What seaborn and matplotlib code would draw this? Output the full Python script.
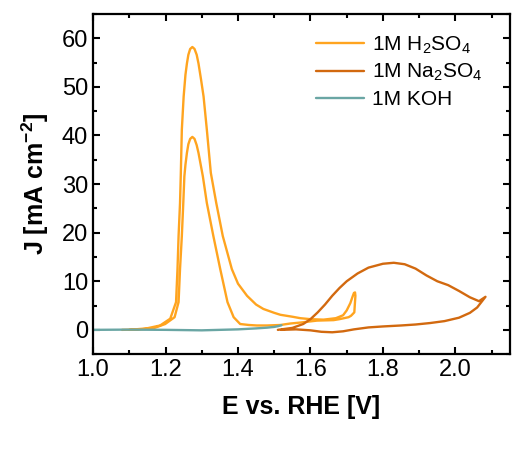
import numpy as np
import pandas as pd
import seaborn as sns
import matplotlib.pyplot as plt
from matplotlib.ticker import MultipleLocator

# 1M H2SO4: forward scan (big peak) then reverse scan (smaller peak)
h2so4_e = [1.10, 1.148, 1.185, 1.213, 1.229, 1.233, 1.236, 1.240, 1.242, 1.245, 1.250,
           1.255, 1.259, 1.263, 1.268, 1.274, 1.280, 1.286, 1.291, 1.298, 1.305, 1.314,
           1.325, 1.340, 1.358, 1.383, 1.400, 1.425, 1.450, 1.470, 1.500, 1.517, 1.550,
           1.572, 1.600, 1.636, 1.670, 1.690, 1.700, 1.710, 1.716, 1.720, 1.723, 1.724,
           1.721, 1.712, 1.705, 1.680, 1.664, 1.618, 1.572, 1.544, 1.517, 1.480, 1.452,
           1.430, 1.406, 1.388, 1.371, 1.351, 1.332, 1.314, 1.303, 1.297, 1.291, 1.286,
           1.280, 1.274, 1.268, 1.263, 1.259, 1.255, 1.252, 1.249, 1.245, 1.240, 1.236,
           1.225, 1.199, 1.166, 1.120, 1.080]
h2so4_j = [0.0, 0.3, 0.9, 2.3, 5.7, 12.5, 19.3, 26.1, 31.6, 41.2, 48.0,
           52.5, 54.8, 56.6, 57.8, 58.2, 57.8, 56.6, 54.8, 51.5, 48.0, 41.2,
           32.3, 26.1, 19.3, 12.5, 9.5, 7.0, 5.2, 4.3, 3.5, 3.1, 2.7,
           2.4, 2.2, 2.1, 2.4, 3.0, 4.0, 5.5, 6.8, 7.6, 7.7, 7.0,
           3.6, 2.9, 2.6, 2.2, 2.0, 1.9, 1.5, 1.3, 1.0, 0.9, 0.9,
           1.0, 1.2, 2.6, 5.7, 12.5, 19.3, 26.1, 31.6, 34.0, 36.4, 38.0,
           39.3, 39.7, 39.3, 38.2, 36.4, 34.0, 31.6, 26.1, 19.3, 12.5, 5.7,
           2.6, 1.2, 0.3, 0.05, 0.0]

# 1M Na2SO4
na2so4_e = [1.51, 1.55, 1.58, 1.60, 1.62, 1.64, 1.66, 1.68, 1.70, 1.73, 1.76, 1.80,
            1.83, 1.86, 1.89, 1.92, 1.95, 1.98, 2.01, 2.04, 2.065, 2.083,
            2.06, 2.04, 2.01, 1.97, 1.93, 1.89, 1.85, 1.80, 1.76, 1.72, 1.69,
            1.66, 1.63, 1.60, 1.56, 1.52]
na2so4_j = [0.0, 0.4, 1.2, 2.2, 3.6, 5.2, 7.0, 8.6, 10.0, 11.6, 12.8, 13.6,
            13.8, 13.5, 12.6, 11.2, 10.0, 9.2, 8.0, 6.7, 5.9, 6.8,
            4.6, 3.5, 2.5, 1.8, 1.4, 1.1, 0.9, 0.7, 0.5, 0.1, -0.3,
            -0.5, -0.4, -0.1, 0.1, 0.0]

# 1M KOH
koh_e = [1.00, 1.10, 1.20, 1.30, 1.40, 1.45, 1.48, 1.50, 1.51, 1.52]
koh_j = [0.0, 0.05, 0.0, -0.1, 0.1, 0.3, 0.45, 0.6, 0.75, 0.95]

sns.set_theme(style="ticks")
plt.rcParams['font.family'] = ['Liberation Sans', 'DejaVu Sans']
plt.rcParams['mathtext.fontset'] = 'custom'
plt.rcParams['mathtext.rm'] = 'Liberation Sans'
plt.rcParams['mathtext.bf'] = 'Liberation Sans:bold'
plt.rcParams['mathtext.default'] = 'regular'
for k in ['text.color', 'axes.labelcolor', 'xtick.color', 'ytick.color', 'axes.edgecolor']:
    plt.rcParams[k] = 'black'

fig = plt.figure(figsize=(5.17, 4.5), dpi=100)
ax = fig.add_axes([0.180, 0.213, 0.806, 0.756])

sns.lineplot(x=h2so4_e, y=h2so4_j, sort=False, estimator=None, color='#FFA41F', lw=1.7,
             label='1M H$_2$SO$_4$', ax=ax)
sns.lineplot(x=na2so4_e, y=na2so4_j, sort=False, estimator=None, color='#D2690F', lw=1.7,
             label='1M Na$_2$SO$_4$', ax=ax)
sns.lineplot(x=koh_e, y=koh_j, sort=False, estimator=None, color='#6AA6A4', lw=1.7,
             label='1M KOH', ax=ax)

ax.set_xlim(1.0, 2.15)
ax.set_ylim(-5, 65)
ax.xaxis.set_major_locator(MultipleLocator(0.2))
ax.xaxis.set_minor_locator(MultipleLocator(0.1))
ax.yaxis.set_major_locator(MultipleLocator(10))
ax.yaxis.set_minor_locator(MultipleLocator(5))
ax.tick_params(which='both', direction='in', top=True, right=True, width=1.5, labelsize=17)
ax.tick_params(which='major', length=5)
ax.tick_params(which='minor', length=3)
for s in ax.spines.values():
    s.set_linewidth(1.6)

ax.set_xlabel('E vs. RHE [V]', fontsize=18, fontweight='bold', labelpad=10)
ax.set_ylabel('J [mA cm$^{-2}$]', fontsize=18, fontweight='bold', labelpad=8)

ax.legend(loc='upper right', frameon=False, fontsize=15, handlelength=2.3,
          handletextpad=0.4, labelspacing=0.32, borderaxespad=0.9,
          bbox_to_anchor=(1.0, 1.02))

fig.savefig('out.png', dpi=100)
